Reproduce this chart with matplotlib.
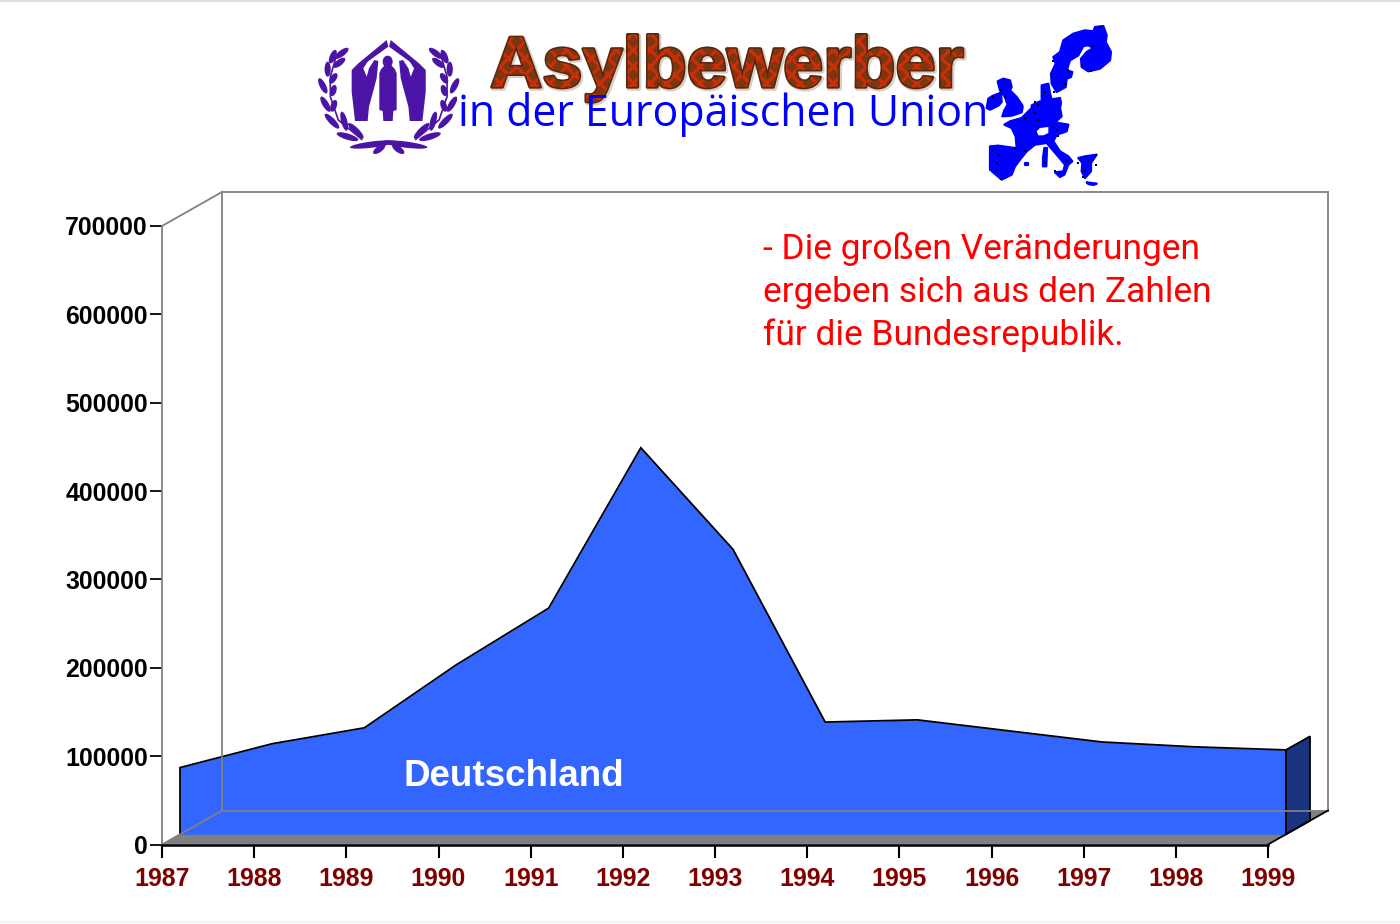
import matplotlib
matplotlib.use("Agg")
import matplotlib.pyplot as plt
import matplotlib.patheffects as pe
from matplotlib.patches import Polygon, Ellipse
import numpy as np

# ---- data ----
years = [1987, 1988, 1989, 1990, 1991, 1992, 1993, 1994, 1995, 1996, 1997, 1998, 1999]
deutschland = [75500, 102500, 120500, 192000, 256000, 437500, 322500, 127000, 129500, 117000, 104500, 99000, 95500]
y_ticks = [0, 100000, 200000, 300000, 400000, 500000, 600000, 700000]
title_top = "Asylbewerber"
title_sub = "in der Europäischen Union"
note_lines = ["- Die großen Veränderungen", "ergeben sich aus den Zahlen", "für die Bundesrepublik."]
series_label = "Deutschland"

W, H = 1400, 924
plt.rcParams["hatch.linewidth"] = 2.2
fig = plt.figure(figsize=(W / 100, H / 100), dpi=100, facecolor="white")

# ---- main axes (front plane of the 3-D box) ----
x0, x1, yb, yt = 162, 1268, 844.5, 226
ax = fig.add_axes([x0 / W, 1 - yb / H, (x1 - x0) / W, (yb - yt) / H])
ax.set_xlim(1987, 1999)
ax.set_ylim(0, 700000)
ax.patch.set_alpha(0)

DX = 60 / ((x1 - x0) / 12)               # box depth in years
DY = 34 / ((yb - yt) / 700000)           # box depth in value units
FRONT, BACK = 0.30, 0.70                 # depth range of the area slab
WALL = "#808080"

yrs = np.array(years, float)
val = np.array(deutschland, float)
fx, fy = FRONT * DX, FRONT * DY
bx, by = BACK * DX, BACK * DY

# floor
ax.add_patch(Polygon([(1987, 0), (1987 + DX, DY), (1999 + DX, DY), (1999, 0)],
                     closed=True, fc=WALL, ec="none", clip_on=False, zorder=1))
# side of slab
ax.add_patch(Polygon([(yrs[-1] + fx, fy), (yrs[-1] + bx, by),
                      (yrs[-1] + bx, val[-1] + by), (yrs[-1] + fx, val[-1] + fy)],
                     closed=True, fc="#1A337F", ec="black", lw=1.3, clip_on=False, zorder=2))
# front of slab
ax.fill_between(yrs + fx, fy, val + fy, color="#3366FF", lw=0, clip_on=False, zorder=3)
ax.plot(np.r_[yrs[0] + fx, yrs + fx, yrs[-1] + fx], np.r_[fy, val + fy, fy],
        color="black", lw=1.3, clip_on=False, zorder=4, solid_joinstyle="miter")

# box outline on top
ln = dict(color=WALL, lw=1.3, clip_on=False, zorder=5)
ax.plot([1987, 1987 + DX], [0, DY], **ln)
ax.plot([1987, 1987 + DX], [700000, 700000 + DY], **ln)
ax.plot([1987 + DX, 1987 + DX], [DY, 700000 + DY], **ln)
ax.plot([1987 + DX, 1999 + DX], [700000 + DY, 700000 + DY], **ln)
ax.plot([1987 + DX, 1999 + DX], [DY, DY], **ln)
ax.plot([1999 + DX, 1999 + DX], [DY, 700000 + DY], **ln)
ax.plot([1999, 1999 + DX], [0, DY], color="black", lw=1.3, clip_on=False, zorder=5)

for s in ("top", "right"):
    ax.spines[s].set_visible(False)
ax.spines["left"].set_color(WALL)
ax.spines["left"].set_linewidth(1.3)
ax.spines["bottom"].set_color("black")
ax.spines["bottom"].set_linewidth(1.8)
ax.spines["bottom"].set_zorder(6)

ax.set_yticks(y_ticks)
ax.set_yticklabels([str(v) for v in y_ticks], fontfamily="Liberation Sans",
                   fontweight="bold", fontsize=17.9, color="black")
ax.set_xticks(years)
ax.set_xticklabels([str(v) for v in years], fontfamily="Liberation Sans",
                   fontweight="bold", fontsize=17.9, color="#800000")
ax.tick_params(axis="y", length=9, width=1.3, color="black", pad=1.2)
ax.tick_params(axis="x", length=9, width=1.5, color="black", pad=7)

# ---- overlay in pixel coordinates: texts and emblems ----
ov = fig.add_axes([0, 0, 1, 1], zorder=10)
ov.set_xlim(0, W)
ov.set_ylim(H, 0)
ov.axis("off")
ov.patch.set_alpha(0)

ov.plot([0, W], [0.5, 0.5], color="#d8d8d8", lw=1.2)
ov.plot([0, W], [921.5, 921.5], color="#f2f2f2", lw=1.2)

ov.text(513.5, 776, series_label, color="white", ha="center", va="center",
        fontfamily="Liberation Sans", fontweight="bold", fontsize=26.5)

for i, line in enumerate(note_lines):
    ov.text(763, 259 + 43 * i, line, color="#FF0000", ha="left", va="baseline",
            fontfamily="Roboto", fontsize=25.5)

# headline with brick-like fill
ov.text(727, 87, title_top, ha="center", va="baseline", color="#7E3610",
        fontfamily="Liberation Sans", fontweight="bold", fontsize=52,
        path_effects=[
            pe.Stroke(linewidth=3.5, foreground="#D8CFC6", offset=(1, -1)),
            pe.Stroke(linewidth=2.4, foreground="#54290C"),
            pe.PathPatchEffect(facecolor="#7E3610", edgecolor="#CC2E0A", hatch="xx", linewidth=0),
        ])
ov.text(723.5, 126, title_sub, color="#0000FF", ha="center", va="baseline",
        fontfamily="Open Sans", fontsize=30.9)

PURPLE = "#4C14A4"
MID = 388.7
def c3(pts):
    return [(345 + a / 3, 35 + b / 3) for a, b in pts]
def c4(pts):
    return [(315 + a / 3, 40 + b / 3) for a, b in pts]
def flip(pts):
    return [(2 * MID - a, b) for a, b in pts]

hand = c3([(125, 15), (40, 85), (20, 105), (20, 170), (30, 258), (68, 258), (72, 215), (95, 130), (100, 78),
           (88, 75), (72, 100), (65, 125), (55, 100), (68, 80), (130, 35)])
ov.add_patch(Polygon(hand, closed=True, fc=PURPLE, ec="none"))
ov.add_patch(Polygon(flip(hand), closed=True, fc=PURPLE, ec="none"))
body = c3([(118, 92), (140, 92), (150, 103), (155, 115), (155, 225), (145, 228), (143, 258), (115, 258),
           (113, 228), (103, 225), (103, 115), (108, 103)])
ov.add_patch(Polygon(body, closed=True, fc=PURPLE, ec="none"))
hc = c3([(128, 80)])[0]
ov.add_patch(Ellipse(hc, 10, 12, fc=PURPLE, ec="none"))

leaves = [((100, 25), (60, 55)), ((90, 55), (55, 82)), ((65, 100), (45, 130)), ((60, 135), (50, 168)),
          ((62, 180), (50, 215)), ((80, 215), (95, 272)), ((62, 30), (45, 70)), ((38, 65), (38, 110)),
          ((12, 115), (35, 160)), ((18, 170), (45, 215)), ((30, 222), (72, 265)), ((65, 280), (130, 300)),
          ((100, 250), (145, 295)), ((105, 322), (240, 305)), ((175, 340), (210, 315))]
stem = c4([(62, 55), (46, 110), (46, 170), (70, 240), (140, 298)])
for tf in (lambda p: p, flip):
    for a, b in leaves:
        (ax_, ay_), (bx_, by_) = tf(c4([a, b]))
        ang = np.degrees(np.arctan2(by_ - ay_, bx_ - ax_))
        length = np.hypot(bx_ - ax_, by_ - ay_)
        ov.add_patch(Ellipse(((ax_ + bx_) / 2, (ay_ + by_) / 2), length, 6.2, angle=ang,
                             fc=PURPLE, ec="none"))
    sx, sy = zip(*tf(stem))
    ov.plot(sx, sy, color=PURPLE, lw=1.2)

def m1(pts):
    return [(985 + a / 3, 22 + b / 3) for a, b in pts]
def m2(pts):
    return [(985 + a / 3, 103 + b / 3) for a, b in pts]

EU = "#0000FF"
shapes = [
    m1([(355, 12), (365, 40), (362, 60), (378, 90), (375, 115), (345, 140), (310, 148), (290, 135), (288, 110),
        (305, 90), (325, 78), (310, 70), (295, 72), (280, 100), (255, 115), (245, 145), (262, 150), (258, 165),
        (245, 170), (242, 195), (215, 210), (200, 185), (198, 155), (212, 125), (205, 105), (225, 90), (235, 55),
        (265, 35), (300, 25), (325, 28), (330, 15)]),
    m1([(38, 178), (55, 170), (75, 175), (80, 195), (75, 205), (95, 225), (112, 250)])
    + m2([(113, 12), (110, 28), (80, 38), (52, 40), (58, 22), (68, 5)])
    + m1([(65, 240), (60, 225), (45, 205)]),
    m1([(22, 222), (48, 212), (50, 240)]) + m2([(40, 8), (15, 20), (5, 15)]) + m1([(10, 230)]),
    m1([(170, 190), (190, 185), (195, 215), (200, 232), (170, 232)]),
    m1([(140, 250), (165, 238), (225, 228), (228, 243)])
    + m2([(225, 15), (230, 40), (210, 58), (250, 65), (245, 85), (215, 95), (205, 115), (225, 145), (250, 160),
          (262, 175), (250, 185), (238, 215), (225, 222), (210, 208), (235, 205), (240, 185), (215, 155),
          (185, 120), (150, 125), (125, 145), (95, 135), (92, 100), (80, 75), (58, 65), (75, 55), (110, 45),
          (140, 15)]),
    m2([(15, 130), (40, 128), (90, 135), (125, 145), (105, 170), (90, 190), (80, 215), (50, 230), (15, 200),
        (15, 170)]),
    m2([(178, 135), (186, 135), (184, 190), (174, 190), (174, 165)]),
    m2([(120, 180), (130, 180), (130, 187), (120, 187)]),
    m2([(280, 165), (300, 160), (335, 155), (318, 180), (318, 205), (300, 225), (290, 205), (292, 180)]),
    m2([(305, 238), (335, 242), (325, 246), (310, 243)]),
]
for s in shapes:
    ov.add_patch(Polygon(s, closed=True, fc=EU, ec=EU, lw=1.6, joinstyle="round"))
ov.add_patch(Polygon(m2([(155, 85), (165, 75), (190, 72), (190, 90), (175, 97), (160, 97)]),
                     closed=True, fc="white", ec="none", zorder=5))
dots = m1([(345, 15), (325, 72), (290, 130), (318, 147), (250, 145), (205, 118), (200, 165),
           (240, 185), (208, 210), (180, 210), (48, 205), (60, 225), (25, 225), (150, 240)]) \
     + m2([(160, 5), (150, 30), (160, 52), (120, 45), (205, 72), (215, 80), (220, 100), (90, 135), (120, 145),
           (20, 145), (42, 155), (35, 180), (35, 200), (48, 228), (180, 180), (210, 205), (280, 180), (310, 175),
           (332, 187), (300, 205), (295, 222), (332, 157), (245, 175)])
dx_, dy_ = zip(*dots)
ov.scatter(dx_, dy_, s=2.5, color="black", marker="s", linewidths=0, zorder=6)

fig.savefig("out.png", dpi=100, facecolor="white")
